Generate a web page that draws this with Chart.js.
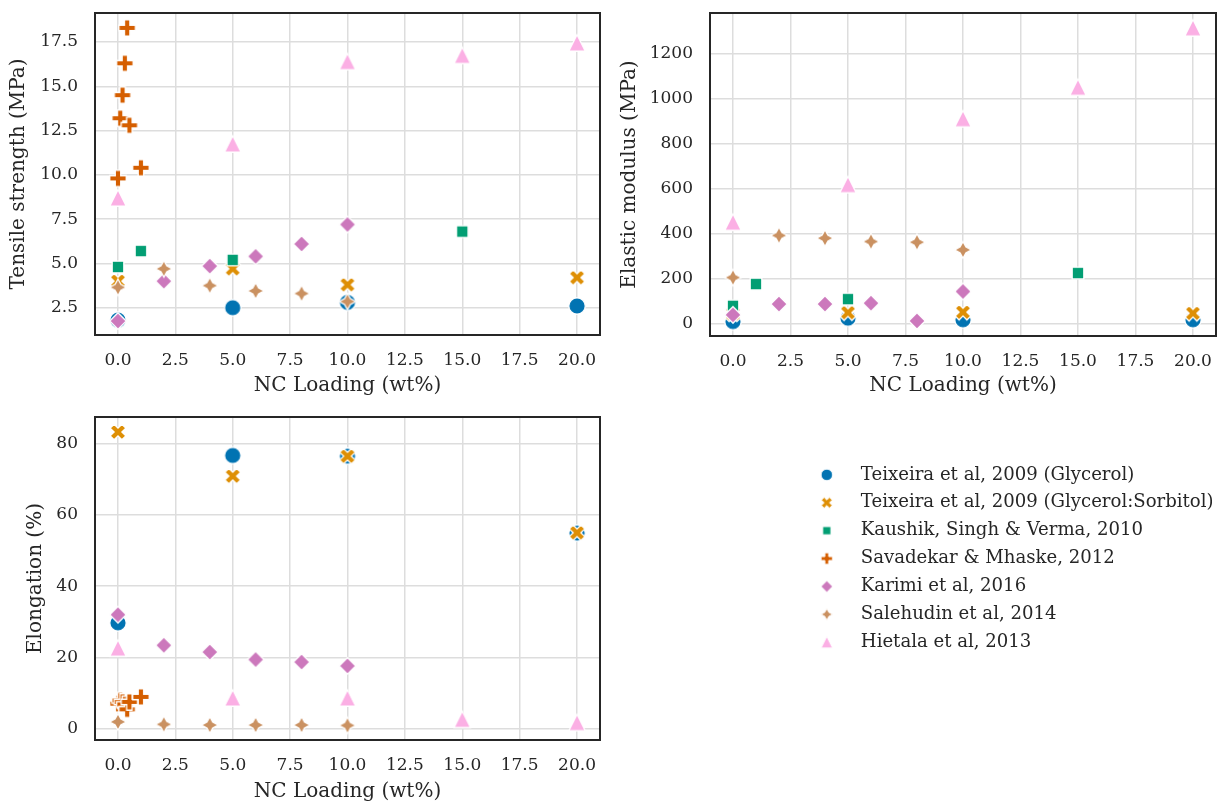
<!DOCTYPE html>
<html>
<head>
<meta charset="utf-8">
<title>NC loading and film properties</title>
<script src="https://cdn.jsdelivr.net/npm/chart.js@4.4.0/dist/chart.umd.min.js"></script>
<style>
  html, body { margin: 0; padding: 0; background: #fff; }
  body { width: 1220px; height: 801px; position: relative; overflow: hidden; }
  canvas { position: absolute; }
  #tensileChart { left: 0; top: 0; }
  #modulusChart { left: 610px; top: 0; }
  #elongationChart { left: 0; top: 400px; }
  #legendChart { left: 792px; top: 440px; }
</style>
</head>
<body>
<canvas id="tensileChart" width="610" height="400"></canvas>
<canvas id="modulusChart" width="616" height="400"></canvas>
<canvas id="elongationChart" width="610" height="404"></canvas>
<canvas id="legendChart" width="428" height="240"></canvas>

<script>
const studies = [
  'Teixeira et al, 2009 (Glycerol)',
  'Teixeira et al, 2009 (Glycerol:Sorbitol)',
  'Kaushik, Singh & Verma, 2010',
  'Savadekar & Mhaske, 2012',
  'Karimi et al, 2016',
  'Salehudin et al, 2014',
  'Hietala et al, 2013'
];

// NC loading (wt%) per study
const loadTeixeira = [0, 5, 10, 20];
const loadKaushik = [0, 1, 5, 15];
const loadSavadekar = [0, 0.1, 0.2, 0.3, 0.4, 0.5, 1];
const loadKarimi = [0, 2, 4, 6, 8, 10];
const loadSalehudin = [0, 2, 4, 6, 8, 10];
const loadHietala = [0, 5, 10, 15, 20];

// tensile strength (MPa)
const tensileTeixeiraGly = [1.8, 2.5, 2.8, 2.6];
const tensileTeixeiraGlySor = [4.0, 4.7, 3.8, 4.2];
const tensileKaushik = [4.8, 5.7, 5.2, 6.8];
const tensileSavadekar = [9.8, 13.2, 14.5, 16.3, 18.3, 12.8, 10.4];
const tensileKarimi = [1.75, 4.0, 4.85, 5.4, 6.1, 7.2];
const tensileSalehudin = [3.65, 4.7, 3.75, 3.45, 3.3, 2.85];
const tensileHietala = [8.7, 11.75, 16.4, 16.75, 17.45];

// elastic modulus (MPa)
const modulusTeixeiraGly = [10, 25, 18, 18];
const modulusTeixeiraGlySor = [45, 50, 52, 47];
const modulusKaushik = [80, 177, 110, 226];
const modulusKarimi = [40, 88, 88, 92, 13, 144];
const modulusSalehudin = [206, 393, 381, 366, 363, 329];
const modulusHietala = [452, 619, 912, 1052, 1316];

// elongation at break (%)
const elongTeixeiraGly = [29.7, 76.7, 76.5, 54.9];
const elongTeixeiraGlySor = [83.3, 70.9, 76.5, 55.0];
const elongSavadekar = [7.0, 7.9, 7.5, 6.8, 5.4, 7.5, 8.9];
const elongKarimi = [32.0, 23.4, 21.5, 19.4, 18.7, 17.6];
const elongSalehudin = [1.9, 1.2, 1.0, 1.0, 1.0, 0.9];
const elongHietala = [22.6, 8.6, 8.6, 2.6, 1.7];

// axis ticks
const loadTicks = [0, 2.5, 5, 7.5, 10, 12.5, 15, 17.5, 20];
const tensileTicks = [2.5, 5, 7.5, 10, 12.5, 15, 17.5];
const modulusTicks = [0, 200, 400, 600, 800, 1000, 1200];
const elongTicks = [0, 20, 40, 60, 80];

// one entry per study, null where the study reports nothing
const tensileSeries = [
  [loadTeixeira, tensileTeixeiraGly],
  [loadTeixeira, tensileTeixeiraGlySor],
  [loadKaushik, tensileKaushik],
  [loadSavadekar, tensileSavadekar],
  [loadKarimi, tensileKarimi],
  [loadSalehudin, tensileSalehudin],
  [loadHietala, tensileHietala]
];
const modulusSeries = [
  [loadTeixeira, modulusTeixeiraGly],
  [loadTeixeira, modulusTeixeiraGlySor],
  [loadKaushik, modulusKaushik],
  null,
  [loadKarimi, modulusKarimi],
  [loadSalehudin, modulusSalehudin],
  [loadHietala, modulusHietala]
];
const elongSeries = [
  [loadTeixeira, elongTeixeiraGly],
  [loadTeixeira, elongTeixeiraGlySor],
  null,
  [loadSavadekar, elongSavadekar],
  [loadKarimi, elongKarimi],
  [loadSalehudin, elongSalehudin],
  [loadHietala, elongHietala]
];

const palette = ['#0173b2', '#de8f05', '#029e73', '#d55e00', '#cc78bc', '#ca9161', '#fbafe4'];
const shapes = ['circle', 'x', 'square', 'plus', 'diamond', 'star', 'triangle'];

const ink = '#262626';
const gridColor = '#dddddd';
const family = "'DejaVu Serif', serif";
const tickFont = { family: family, size: 17 };
const titleFont = { family: family, size: 20 };

// marker sprites with a thin white outline
function makeMarker(shape, color, size) {
  const edge = size * 0.08;
  const dim = Math.ceil(size + edge * 2 + 4);
  const c = document.createElement('canvas');
  c.width = dim;
  c.height = dim;
  const g = c.getContext('2d');
  const h = size / 2;
  g.translate(dim / 2, dim / 2);
  g.beginPath();
  if (shape === 'circle') {
    g.arc(0, 0, h, 0, Math.PI * 2);
  } else if (shape === 'square') {
    const a = h / Math.SQRT2;
    g.rect(-a, -a, a * 2, a * 2);
  } else if (shape === 'diamond') {
    g.moveTo(0, -h); g.lineTo(h, 0); g.lineTo(0, h); g.lineTo(-h, 0);
    g.closePath();
  } else if (shape === 'star') {
    for (let i = 0; i < 8; i++) {
      const ang = i * Math.PI / 4 - Math.PI / 2;
      const r = i % 2 ? h * 0.5 : h;
      const px = Math.cos(ang) * r, py = Math.sin(ang) * r;
      if (i === 0) g.moveTo(px, py); else g.lineTo(px, py);
    }
    g.closePath();
  } else if (shape === 'triangle') {
    g.moveTo(0, -h); g.lineTo(h, h); g.lineTo(-h, h);
    g.closePath();
  } else {
    // filled plus; the x is the same outline turned by 45 degrees
    const pts = [[-1, -3], [1, -3], [1, -1], [3, -1], [3, 1], [1, 1],
                 [1, 3], [-1, 3], [-1, 1], [-3, 1], [-3, -1], [-1, -1]];
    if (shape === 'x') g.rotate(Math.PI / 4);
    pts.forEach((p, i) => {
      const px = p[0] * h / 3, py = p[1] * h / 3;
      if (i === 0) g.moveTo(px, py); else g.lineTo(px, py);
    });
    g.closePath();
  }
  g.fillStyle = color;
  g.fill();
  g.lineWidth = edge;
  g.strokeStyle = '#ffffff';
  g.lineJoin = 'miter';
  g.stroke();
  return c;
}

const dataMarkers = shapes.map((s, i) => makeMarker(s, palette[i], 16.5));
const legendMarkers = shapes.map((s, i) => makeMarker(s, palette[i], 11.5));

// box around each plot area, drawn over the points like the spines
const frame = {
  id: 'frame',
  afterDraw(chart) {
    const { ctx, chartArea: a } = chart;
    ctx.save();
    ctx.strokeStyle = ink;
    ctx.lineWidth = 2;
    ctx.strokeRect(a.left, a.top, a.right - a.left, a.bottom - a.top);
    ctx.restore();
  }
};

function buildDatasets(series) {
  const sets = [];
  series.forEach((s, i) => {
    if (!s) return;
    const xs = s[0], ys = s[1];
    sets.push({
      label: studies[i],
      data: xs.map((x, k) => ({ x: x, y: ys[k] })),
      pointStyle: dataMarkers[i],
      pointRadius: 8,
      order: studies.length - i
    });
  });
  return sets;
}

function renderPanel(id, series, p) {
  const ctx = document.getElementById(id).getContext('2d');
  return new Chart(ctx, {
    type: 'scatter',
    data: { datasets: buildDatasets(series) },
    options: {
      responsive: false,
      animation: false,
      events: [],
      layout: { padding: p.padding },
      plugins: { legend: { display: false }, tooltip: { enabled: false } },
      scales: {
        x: {
          min: -1,
          max: 21,
          afterBuildTicks: s => { s.ticks = loadTicks.map(v => ({ value: v })); },
          afterFit: s => {
            s.height = p.xHeight;
            s.paddingLeft = 0;
            s.paddingRight = 0;
          },
          ticks: { callback: v => v.toFixed(1), padding: 15, color: ink, font: tickFont, autoSkip: false, maxRotation: 0 },
          grid: { color: gridColor, lineWidth: 1.5, drawTicks: false },
          border: { display: false },
          title: { display: true, text: 'NC Loading (wt%)', color: ink, font: titleFont, padding: { top: 0, bottom: p.xTitlePad } }
        },
        y: {
          min: p.yMin,
          max: p.yMax,
          afterBuildTicks: s => { s.ticks = p.yTicks.map(v => ({ value: v })); },
          afterFit: s => {
            s.width = p.yWidth;
            s.paddingTop = 0;
            s.paddingBottom = 0;
          },
          ticks: { callback: p.yFormat, padding: 17, color: ink, font: tickFont, autoSkip: false },
          grid: { color: gridColor, lineWidth: 1.5, drawTicks: false },
          border: { display: false },
          title: { display: true, text: p.yTitle, color: ink, font: titleFont, padding: { top: p.yTitlePad, bottom: 0 } }
        }
      }
    },
    plugins: [frame]
  });
}

renderPanel('tensileChart', tensileSeries, {
  padding: { top: 13, right: 10, left: 0, bottom: 0 },
  xHeight: 65, xTitlePad: 2,
  yMin: 0.96, yMax: 19.14, yTicks: tensileTicks, yFormat: v => v.toFixed(1),
  yWidth: 95, yTitle: 'Tensile strength (MPa)', yTitlePad: 7
});

renderPanel('modulusChart', modulusSeries, {
  padding: { top: 13, right: 10, left: 0, bottom: 0 },
  xHeight: 64, xTitlePad: 2,
  yMin: -54, yMax: 1382, yTicks: modulusTicks, yFormat: v => String(v),
  yWidth: 100, yTitle: 'Elastic modulus (MPa)', yTitlePad: 8
});

renderPanel('elongationChart', elongSeries, {
  padding: { top: 17, right: 10, left: 0, bottom: 0 },
  xHeight: 64, xTitlePad: 0,
  yMin: -3.2, yMax: 87.5, yTicks: elongTicks, yFormat: v => String(v),
  yWidth: 95, yTitle: 'Elongation (%)', yTitlePad: 24
});

// shared legend in the empty fourth cell
new Chart(document.getElementById('legendChart').getContext('2d'), {
  type: 'scatter',
  data: {
    datasets: studies.map((name, i) => ({ label: name, data: [], pointStyle: legendMarkers[i] }))
  },
  options: {
    responsive: false,
    animation: false,
    events: [],
    layout: { padding: { top: 16, left: 0 } },
    scales: { x: { display: false }, y: { display: false } },
    plugins: {
      tooltip: { enabled: false },
      legend: {
        position: 'left',
        align: 'start',
        maxWidth: 420,
        labels: {
          usePointStyle: true,
          pointStyleWidth: 50,
          padding: 9.8,
          color: ink,
          font: { family: family, size: 18.1 },
          generateLabels: chart => chart.data.datasets.map((d, i) => ({
            text: d.label,
            pointStyle: d.pointStyle,
            fontColor: ink,
            lineWidth: 0,
            hidden: false,
            datasetIndex: i
          }))
        }
      }
    }
  }
});
</script>
</body>
</html>
